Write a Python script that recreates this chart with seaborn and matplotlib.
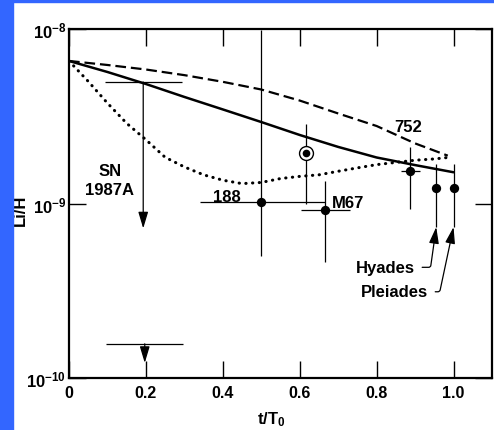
import numpy as np
import pandas as pd
import matplotlib
matplotlib.use("Agg")
import matplotlib.pyplot as plt
import seaborn as sns
from matplotlib.patches import Rectangle
from matplotlib.ticker import NullLocator

# ---------------- data ----------------
# model curves (Li/H versus t/T0)
t_solid = [0.0, 0.1, 0.2, 0.3, 0.4, 0.5, 0.6, 0.7, 0.8, 0.9, 1.0]
y_solid = [6.56e-9, 5.67e-9, 4.84e-9, 4.08e-9, 3.46e-9, 2.93e-9, 2.47e-9,
           2.11e-9, 1.835e-9, 1.66e-9, 1.51e-9]

t_dashed = [0.0, 0.1, 0.2, 0.3, 0.4, 0.5, 0.6, 0.7, 0.8, 0.9, 0.985]
y_dashed = [6.56e-9, 6.22e-9, 5.86e-9, 5.44e-9, 4.98e-9, 4.50e-9, 3.89e-9,
            3.28e-9, 2.78e-9, 2.21e-9, 1.88e-9]

t_dotted = [0.0, 0.05, 0.1, 0.15, 0.2, 0.25, 0.3, 0.35, 0.4, 0.45, 0.5, 0.55,
            0.6, 0.65, 0.7, 0.75, 0.8, 0.85, 0.9, 0.95, 0.99]
y_dotted = [6.56e-9, 5.01e-9, 3.76e-9, 2.88e-9, 2.32e-9, 1.84e-9, 1.62e-9,
            1.46e-9, 1.36e-9, 1.30e-9, 1.32e-9, 1.39e-9, 1.43e-9, 1.46e-9,
            1.53e-9, 1.60e-9, 1.67e-9, 1.72e-9, 1.77e-9, 1.80e-9, 1.84e-9]

# measured points: 188, M67, 752, Hyades, Pleiades
pt_names = ["188", "M67", "752", "Hyades", "Pleiades"]
pt_t = [0.5, 0.667, 0.888, 0.955, 1.0]
pt_tlo = [0.34, 0.604, 0.864, 0.955, 1.0]
pt_thi = [0.665, 0.73, 0.912, 0.955, 1.0]
pt_y = [1.02e-9, 9.18e-10, 1.54e-9, 1.22e-9, 1.22e-9]
pt_ylo = [5.01e-10, 4.60e-10, 9.29e-10, 7.33e-10, 7.33e-10]
pt_yhi = [9.87e-9, 1.35e-9, 2.11e-9, 1.68e-9, 1.68e-9]

# circled point (Sun)
sun_t = [0.617]
sun_y = [1.94e-9]
sun_ylo = [9.93e-10]
sun_yhi = [2.86e-9]

# upper limits (SN 1987A and lower one)
lim_t = [0.193, 0.197]
lim_tlo = [0.094, 0.096]
lim_thi = [0.294, 0.296]
lim_y = [4.97e-9, 1.57e-10]
lim_tip = [7.2e-10, 1.22e-10]

xtick_vals = [0, 0.2, 0.4, 0.6, 0.8, 1.0]
xtick_labels = ["0", "0.2", "0.4", "0.6", "0.8", "1.0"]
ytick_vals = [1e-10, 1e-9, 1e-8]
ytick_labels = [r"$10^{-10}$", r"$10^{-9}$", r"$10^{-8}$"]

# ---------------- style ----------------
sns.set_theme(style="white")
plt.rcParams["font.family"] = ["Liberation Sans", "DejaVu Sans"]
plt.rcParams["font.weight"] = "bold"
plt.rcParams["mathtext.fontset"] = "custom"
plt.rcParams["mathtext.rm"] = "Liberation Sans:bold"
plt.rcParams["mathtext.it"] = "Liberation Sans:bold"
plt.rcParams["mathtext.bf"] = "Liberation Sans:bold"
plt.rcParams["mathtext.default"] = "rm"
for k in ["axes.edgecolor", "text.color", "xtick.color", "ytick.color", "axes.labelcolor"]:
    plt.rcParams[k] = "black"

fig = plt.figure(figsize=(4.94, 4.31), dpi=100)
fig.patch.set_facecolor("white")
ax = fig.add_axes([69 / 494, 52 / 431, 423 / 494, 349 / 431])
ax.set_yscale("log")

# curves
df_s = pd.DataFrame({"t": t_solid, "LiH": y_solid})
df_d = pd.DataFrame({"t": t_dashed, "LiH": y_dashed})
df_o = pd.DataFrame({"t": t_dotted, "LiH": y_dotted})
sns.lineplot(data=df_s, x="t", y="LiH", ax=ax, color="black", lw=1.8,
             estimator=None, sort=False)
sns.lineplot(data=df_d, x="t", y="LiH", ax=ax, color="black", lw=1.6,
             estimator=None, sort=False, linestyle=(0, (4.8, 2.2)))
lo = sns.lineplot(data=df_o, x="t", y="LiH", ax=ax, color="black", lw=2.2,
                  estimator=None, sort=False)
lo.lines[-1].set_linestyle((0, (0.1, 2.1)))
lo.lines[-1].set_dash_capstyle("round")

# error bars for measured points
pt_t_a = np.array(pt_t); pt_y_a = np.array(pt_y)
ax.errorbar(pt_t_a, pt_y_a,
            xerr=[pt_t_a - np.array(pt_tlo), np.array(pt_thi) - pt_t_a],
            yerr=[pt_y_a - np.array(pt_ylo), np.array(pt_yhi) - pt_y_a],
            fmt="none", ecolor="black", elinewidth=0.9, capsize=0)
sns.scatterplot(x=pt_t, y=pt_y, ax=ax, color="black", s=45, edgecolor="black",
                linewidth=0, zorder=5)

# circled point
ax.errorbar(sun_t, sun_y,
            yerr=[[sun_y[0] - sun_ylo[0]], [sun_yhi[0] - sun_y[0]]],
            fmt="none", ecolor="black", elinewidth=0.9, capsize=0)
ax.plot(sun_t, sun_y, "o", ms=10, mfc="white", mec="black", mew=1.0, zorder=5)
ax.plot(sun_t, sun_y, "o", ms=5.5, mfc="black", mec="black", mew=0, zorder=6)

# upper limits
lim_t_a = np.array(lim_t)
ax.errorbar(lim_t_a, lim_y,
            xerr=[lim_t_a - np.array(lim_tlo), np.array(lim_thi) - lim_t_a],
            fmt="none", ecolor="black", elinewidth=0.9, capsize=0)
for xt, yb, yt in zip(lim_t, lim_y, lim_tip):
    ax.annotate("", xy=(xt, yt), xytext=(xt, yb),
                arrowprops=dict(arrowstyle="-|>,head_length=1.0,head_width=0.3",
                                mutation_scale=10, color="black", lw=0.9,
                                shrinkA=0, shrinkB=0))

# labels
fs = 12
ax.text(0.106, 1.45e-9, "SN", ha="center", va="baseline", fontsize=fs, fontweight="bold")
ax.text(0.106, 1.13e-9, "1987A", ha="center", va="baseline", fontsize=fs, fontweight="bold")
ax.text(0.41, 1.03e-9, "188", ha="center", va="baseline", fontsize=fs, fontweight="bold")
ax.text(0.725, 9.5e-10, "M67", ha="center", va="baseline", fontsize=fs, fontweight="bold")
ax.text(0.883, 2.60e-9, "752", ha="center", va="baseline", fontsize=fs, fontweight="bold")

ax.annotate("Hyades", xy=(0.955, 7.33e-10), xytext=(0.899, 4.06e-10),
            ha="right", va="baseline", fontsize=fs, fontweight="bold",
            arrowprops=dict(arrowstyle="-|>,head_length=1.0,head_width=0.3",
                            mutation_scale=10, color="black", lw=0.9,
                            connectionstyle="angle,angleA=0,angleB=82,rad=2",
                            shrinkA=3, shrinkB=0))
ax.annotate("Pleiades", xy=(1.0, 7.33e-10), xytext=(0.933, 2.94e-10),
            ha="right", va="baseline", fontsize=fs, fontweight="bold",
            arrowprops=dict(arrowstyle="-|>,head_length=1.0,head_width=0.3",
                            mutation_scale=10, color="black", lw=0.9,
                            connectionstyle="angle,angleA=0,angleB=78,rad=2",
                            shrinkA=3, shrinkB=0))

# axes
ax.set_xlim(0, 1.1)
ax.set_ylim(1e-10, 1e-8)
ax.set_xticks(xtick_vals)
ax.set_xticklabels(xtick_labels)
ax.set_yticks(ytick_vals)
ax.set_yticklabels(ytick_labels)
ax.yaxis.set_minor_locator(NullLocator())
ax.xaxis.set_minor_locator(NullLocator())
ax.tick_params(which="major", direction="in", length=12, width=1.0,
               top=True, right=True, bottom=True, left=True)
ax.tick_params(axis="x", pad=5, labelsize=11.5)
ax.tick_params(axis="y", pad=2, labelsize=12)
for lab in ax.get_xticklabels() + ax.get_yticklabels():
    lab.set_fontweight("bold")
for sp in ax.spines.values():
    sp.set_linewidth(1.6)
    sp.set_color("black")

ax.set_xlabel(r"t/T$_0$", fontsize=12, fontweight="bold")
ax.xaxis.set_label_coords(0.479, -0.089)
ax.set_ylabel("Li/H", fontsize=12, fontweight="bold")
ax.yaxis.set_label_coords(-0.098, 0.484)

# blue frame strips
blue = "#3366ff"
fig.patches.append(Rectangle((0, 0), 13 / 494, 1, transform=fig.transFigure,
                             color=blue, zorder=10))
fig.patches.append(Rectangle((0, 1 - 3 / 431), 1, 3 / 431, transform=fig.transFigure,
                             color=blue, zorder=10))

fig.savefig("out.png", dpi=100, facecolor="white")
